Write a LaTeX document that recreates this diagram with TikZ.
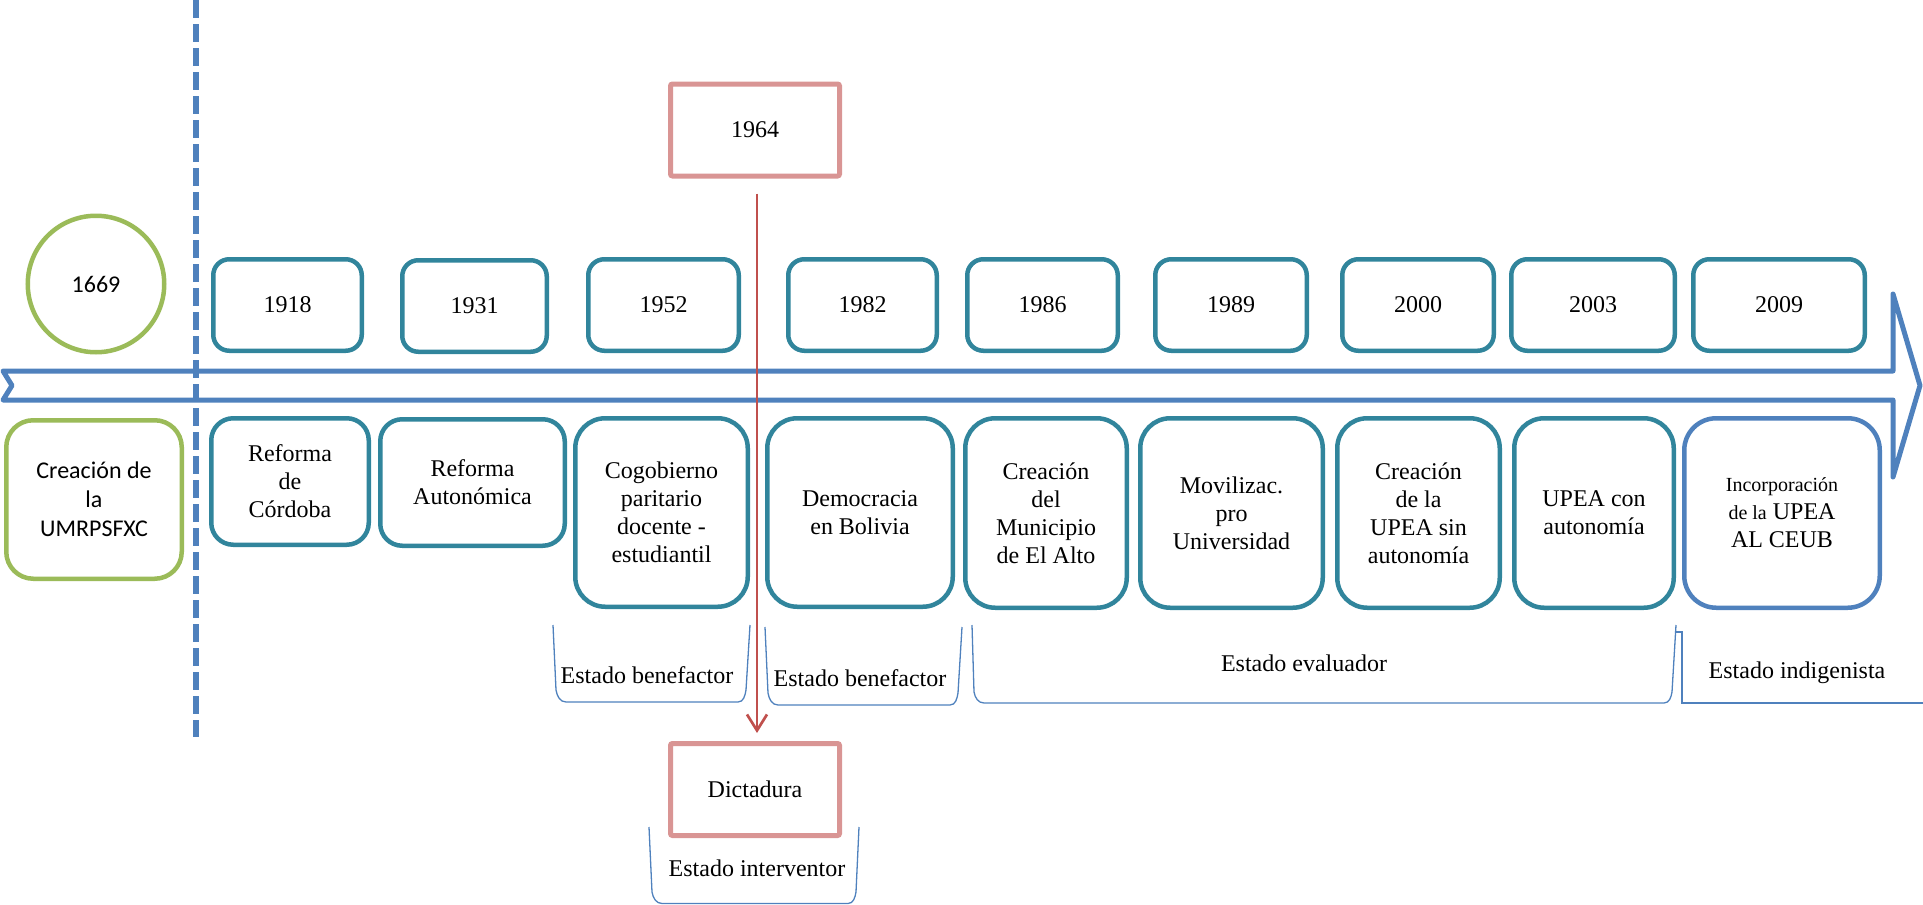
\documentclass[tikz,border=0pt]{standalone}
\usepackage{fontspec}
\setmainfont{Liberation Serif}
\newfontfamily\calibri{Carlito}
\usetikzlibrary{arrows.meta}
\definecolor{tealc}{HTML}{31859C}
\definecolor{greenc}{HTML}{9BBB59}
\definecolor{bluec}{HTML}{4F81BD}
\definecolor{pinkc}{HTML}{D99594}
\definecolor{redc}{HTML}{C0504D}
\tikzset{
  txt/.style={font=\fontsize{24}{28}\selectfont, align=center, inner sep=0pt},
  yearbox/.style={txt, draw=tealc, line width=4.5pt, fill=white, rounded corners=16pt, minimum height=91.5pt},
  evbox/.style={txt, draw=tealc, line width=4.5pt, fill=white},
  pinkbox/.style={txt, draw=pinkc, line width=5pt, fill=white, rounded corners=2pt, minimum width=169pt, minimum height=92pt},
  bracket/.style={draw=bluec, line width=1.3pt},
  lbl/.style={txt}
}
\begin{document}
\begin{tikzpicture}[x=1pt,y=-1pt]
\useasboundingbox (0,0) rectangle (1923,905);
% timeline arrow
\coordinate (a1) at (3,371);
\draw[bluec, line width=5pt, line join=round, fill=white]
  (a1) -- (1893,371) -- (1893,294) -- (1920,385.5) -- (1893,477) -- (1893,400) -- (3,400) -- (12,385.5) -- cycle;
% top row
\node[circle, draw=greenc, line width=4.5pt, fill=white, minimum size=136.5pt, inner sep=0pt, font=\calibri\fontsize{24}{29}\selectfont] (c1669) at (96,284) {1669};
\node[yearbox, minimum width=148.5pt] (y1918) at (287.5,305) {1918};
\node[yearbox, minimum width=144.5pt] (y1931) at (474.5,306) {1931};
\node[yearbox, minimum width=150.5pt] (y1952) at (663.5,305) {1952};
\node[yearbox, minimum width=148.5pt] (y1982) at (862.5,305) {1982};
\node[yearbox, minimum width=150.5pt] (y1986) at (1042.5,305) {1986};
\node[yearbox, minimum width=151.5pt] (y1989) at (1231,305) {1989};
\node[yearbox, minimum width=151.5pt] (y2000) at (1418,305) {2000};
\node[yearbox, minimum width=163.5pt] (y2003) at (1593,305) {2003};
\node[yearbox, minimum width=171.5pt] (y2009) at (1779,305) {2009};
\node[pinkbox] (t1964) at (755,130) {1964};
% bottom row
\node[txt, draw=greenc, line width=4.5pt, fill=white, rounded corners=27pt, minimum width=175.5pt, minimum height=158.5pt, font=\calibri\fontsize{24}{29}\selectfont] (e1669) at (94,499.5) {Creación de\\la\\UMRPSFXC};
\node[evbox, rounded corners=22pt, minimum width=157.5pt, minimum height=126.5pt] (e1918) at (290,481.5) {Reforma\\de\\Córdoba};
\node[evbox, rounded corners=22pt, minimum width=184.5pt, minimum height=126.5pt] (e1931) at (472.5,482.5) {Reforma\\Autonómica};
\node[evbox, rounded corners=30pt, minimum width=172.5pt, minimum height=188.5pt] (e1952) at (661.5,512.5) {Cogobierno\\paritario\\docente -\\estudiantil};
\node[evbox, rounded corners=30pt, minimum width=185.5pt, minimum height=188.5pt] (e1982) at (860,512.5) {Democracia\\en Bolivia};
\node[evbox, rounded corners=30pt, minimum width=161.5pt, minimum height=189.5pt] (e1986) at (1046,513) {Creación\\del\\Municipio\\de El Alto};
\node[evbox, rounded corners=30pt, minimum width=182.5pt, minimum height=189.5pt] (e1989) at (1231.5,513) {Movilizac.\\pro\\Universidad};
\node[evbox, rounded corners=30pt, minimum width=162.5pt, minimum height=189.5pt] (e2000) at (1418.5,513) {Creación\\de la\\UPEA sin\\autonomía};
\node[evbox, rounded corners=30pt, minimum width=159.5pt, minimum height=189.5pt] (e2003) at (1594,513) {UPEA con\\autonomía};
\node[evbox, draw=bluec, rounded corners=32pt, minimum width=195.5pt, minimum height=189.5pt] (e2009) at (1782,513) {{\fontsize{20}{26}\selectfont Incorporación}\\{\fontsize{20}{28}\selectfont de la} UPEA\\AL CEUB};
\node[pinkbox] (dict) at (755,789.5) {Dictadura};
% brackets
\draw[bracket] (553,625) -- (556,690) to[out=-80,in=180] (566,702) -- (738,702) to[out=0,in=-100] (746,690) -- (750,625);
\node[lbl] (sb1) at (647,675) {Estado benefactor};
\draw[bracket] (765,627) -- (768,693) to[out=-80,in=180] (778,705) -- (950,705) to[out=0,in=-100] (958,693) -- (962,627);
\node[lbl] (sb2) at (860,678) {Estado benefactor};
\draw[bracket] (972,625) -- (974,692) to[out=-80,in=180] (984,703) -- (1664,703) to[out=0,in=-100] (1672,692) -- (1676,625);
\node[lbl] (sev) at (1304,663) {Estado evaluador};
\draw[bracket] (1676,632) -- (1682,632) -- (1682,703) -- (1923,703);
\node[lbl] (sind) at (1797,673) {Estado indigenista};
\draw[bracket] (649,827) -- (652,892) to[out=-80,in=180] (662,903.5) -- (848,903.5) to[out=0,in=-100] (856,892) -- (859,827);
\node[lbl] (sint) at (757,868) {Estado interventor};
% red arrow
\draw[redc, line width=2.7pt, -{Straight Barb[length=16pt,width=20pt]}] ([xshift=2pt,yshift=-15pt]t1964.south) -- ([xshift=2pt,yshift=8pt]dict.north);
% dashed divider
\coordinate (d1) at (196,0);
\coordinate (d2) at (196,737);
\draw[bluec, line width=6pt, dash pattern=on 18pt off 6pt] (d1) -- (d2);
\end{tikzpicture}
\end{document}
